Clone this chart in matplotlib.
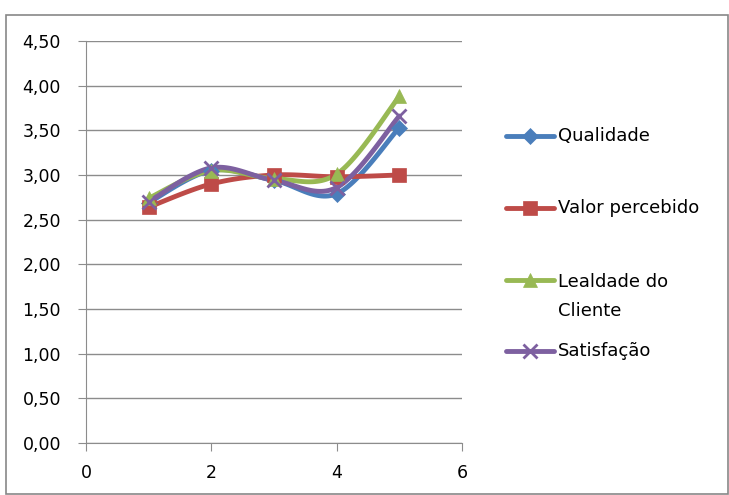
import numpy as np
import matplotlib.pyplot as plt
from matplotlib.lines import Line2D
from matplotlib.patches import Rectangle

plt.rcParams['font.family'] = ['DejaVu Sans']

x = [1, 2, 3, 4, 5]
series_names = ['Qualidade', 'Valor percebido', 'Lealdade do\nCliente', 'Satisfação']
qualidade = [2.69, 3.05, 2.94, 2.79, 3.53]
valor_percebido = [2.64, 2.90, 3.00, 2.98, 3.00]
lealdade = [2.74, 3.05, 2.96, 3.01, 3.88]
satisfacao = [2.70, 3.08, 2.94, 2.86, 3.66]
y_ticks = [0, 0.5, 1, 1.5, 2, 2.5, 3, 3.5, 4, 4.5]
x_ticks = [0, 2, 4, 6]

colors = ['#4A7EBB', '#BE4B48', '#98B954', '#7D60A0']
markers = ['D', 's', '^', 'x']
msizes = [8, 10, 10, 10]


def smooth(xs, ys, n=30):
    # Excel-style smoothing: cubic bezier with control points from neighbours
    xs = np.asarray(xs, float)
    ys = np.asarray(ys, float)
    px, py = [], []
    for i in range(len(xs) - 1):
        x0, y0 = xs[max(i - 1, 0)], ys[max(i - 1, 0)]
        x1, y1 = xs[i], ys[i]
        x2, y2 = xs[i + 1], ys[i + 1]
        x3, y3 = xs[min(i + 2, len(xs) - 1)], ys[min(i + 2, len(xs) - 1)]
        c1x, c1y = x1 + (x2 - x0) / 6, y1 + (y2 - y0) / 6
        c2x, c2y = x2 - (x3 - x1) / 6, y2 - (y3 - y1) / 6
        t = np.linspace(0, 1, n)
        bx = (1 - t) ** 3 * x1 + 3 * (1 - t) ** 2 * t * c1x + 3 * (1 - t) * t ** 2 * c2x + t ** 3 * x2
        by = (1 - t) ** 3 * y1 + 3 * (1 - t) ** 2 * t * c1y + 3 * (1 - t) * t ** 2 * c2y + t ** 3 * y2
        px.extend(bx)
        py.extend(by)
    return px, py


fig = plt.figure(figsize=(7.29, 4.95), dpi=100)
fig.patches.append(Rectangle((6 / 729, 1 / 495), 722 / 729, 479 / 495, transform=fig.transFigure,
                             fill=False, edgecolor='#878787', lw=1.2))
ax = fig.add_axes([86 / 729, 1 - 443 / 495, 376 / 729, 402 / 495])

for ys, c, m, ms in zip([qualidade, valor_percebido, lealdade, satisfacao], colors, markers, msizes):
    sx, sy = smooth(x, ys)
    ax.plot(sx, sy, color=c, lw=3.5, solid_capstyle='round', zorder=2)
    ax.plot(x, ys, linestyle='none', marker=m, markersize=ms, color=c,
            markeredgewidth=2 if m == 'x' else 0.5, zorder=3)

ax.set_xlim(0, 6)
ax.set_ylim(0, 4.5)
ax.set_yticks(y_ticks)
ax.set_yticklabels([f'{v:.2f}'.replace('.', ',') for v in y_ticks])
ax.set_xticks(x_ticks)
ax.yaxis.grid(True, color='#8c8c8c', lw=1)
ax.set_axisbelow(True)
for s in ['top', 'right']:
    ax.spines[s].set_visible(False)
for s in ['left', 'bottom']:
    ax.spines[s].set_color('#8c8c8c')
ax.tick_params(axis='both', colors='#8c8c8c', labelcolor='black', labelsize=12.5, length=6)
ax.tick_params(axis='y', pad=12)
ax.tick_params(axis='x', pad=9)

# legend
leg_y = [136, 208, 280, 351]
for name, c, m, ms, yy in zip(series_names, colors, markers, msizes, leg_y):
    yf = 1 - yy / 495
    fig.add_artist(Line2D([506 / 729, 554 / 729], [yf, yf], color=c, lw=3.5,
                          solid_capstyle='round', transform=fig.transFigure))
    fig.add_artist(Line2D([530 / 729], [yf], marker=m, markersize=ms, color=c,
                          markeredgewidth=2 if m == 'x' else 0.5, transform=fig.transFigure))
    if '\n' in name:
        fig.text(558 / 729, 1 - (yy - 7) / 495, name, fontsize=13, va='top', ha='left',
                 linespacing=1.8)
    else:
        fig.text(558 / 729, yf, name, fontsize=13, va='center', ha='left')

fig.savefig('out.png', dpi=100)
